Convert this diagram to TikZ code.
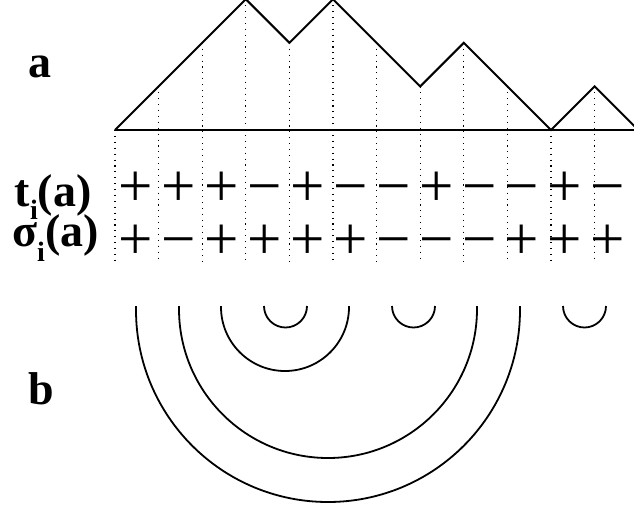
\documentclass[tikz,border=0pt]{standalone}
\usepackage{fontspec}
\setmainfont{Liberation Serif}
\begin{document}
\begin{tikzpicture}[x=1pt,y=-1pt,
  lab/.style={font=\fontsize{46}{46}\selectfont\bfseries, anchor=base west, inner sep=0pt, text height=0.66em, text depth=0.1em},
  big/.style={font=\fontsize{46}{46}\selectfont\bfseries, anchor=base west, inner sep=0pt},
  sgn/.style={font=\fontsize{61}{61}\selectfont, anchor=base, inner sep=0pt, text height=0.52em, text depth=0pt},
  grid/.style={line width=1.1pt, dash pattern=on 1.1pt off 4.8pt},
  walk/.style={line width=2pt, line join=miter},
  axisline/.style={line width=1.3pt},
  arcline/.style={line width=1.8pt}]
\useasboundingbox (0,0) rectangle (634,507);
% walk vertices
\foreach \h [count=\i from 0] in {0,1,2,3,2,3,2,1,2,1,0,1,0}
  \coordinate (p\i) at ({115+43.6*\i},{130-43.6*\h});
\coordinate (bR) at (640,130);
\coordinate (bot) at (0,262);
\draw[axisline] (p0) -- (bR);
\draw[walk] (p0) -- (p1) -- (p2) -- (p3) -- (p4) -- (p5) -- (p6) -- (p7) -- (p8) -- (p9) -- (p10) -- (p11) -- (p12);
\foreach \i in {0,...,11}
  \draw[grid] (p\i) -- (p\i |- bot);
% labels
\node[big] (la) at (28,77) {a};
\node[big] (lb) at (28,404) {b};
\node[lab] (lt) at (14,206) {t\hspace{0.5pt}\raisebox{-13pt}[0pt][0pt]{\fontsize{28}{28}\selectfont i}(a)};
\node[lab] (ls) at (12,246) {σ\raisebox{-15pt}[0pt][0pt]{\fontsize{28}{28}\selectfont i}(a)};
% signs
\foreach \s [count=\i from 0] in {+,+,+,−,+,−,−,+,−,−,+,−}
  \node[sgn] (t\i) at ({136+42.9*\i},206) {\s};
\foreach \s [count=\i from 0] in {+,−,+,+,+,+,−,−,−,+,+,+}
  \node[sgn] (s\i) at ({136+42.9*\i},259) {\s};
% arcs
\coordinate (a1l) at (136,306); \coordinate (a1r) at (520,306);
\coordinate (a2l) at (179,306); \coordinate (a2r) at (477,306);
\coordinate (a3l) at (221,306); \coordinate (a3r) at (349,306);
\coordinate (a4l) at (264,306); \coordinate (a4r) at (307,306);
\coordinate (a5l) at (392,306); \coordinate (a5r) at (435,306);
\coordinate (a6l) at (563,306); \coordinate (a6r) at (606,306);
\draw[arcline] (a1l) -- ++(0,4) arc[start angle=180,end angle=0,radius=192] -- (a1r);
\draw[arcline] (a2l) -- ++(0,3) arc[start angle=180,end angle=0,radius=149] -- (a2r);
\draw[arcline] (a3l) -- ++(0,1) arc[start angle=180,end angle=0,radius=64] -- (a3r);
\draw[arcline] (a4l) arc[start angle=180,end angle=0,radius=21.5] -- (a4r);
\draw[arcline] (a5l) arc[start angle=180,end angle=0,radius=21.5] -- (a5r);
\draw[arcline] (a6l) arc[start angle=180,end angle=0,radius=21.5] -- (a6r);
\end{tikzpicture}
\end{document}
